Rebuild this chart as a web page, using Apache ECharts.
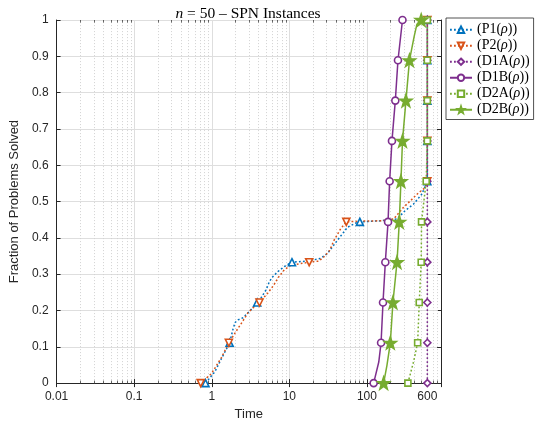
<!DOCTYPE html>
<html>
<head>
<meta charset="utf-8">
<script src="https://cdn.jsdelivr.net/npm/echarts@6/dist/echarts.min.js"></script>
<style>html,body{margin:0;padding:0;background:#fff;}#c{width:537px;height:426px;}</style>
</head>
<body>
<div id="c"></div>
<script>
// ---- data ----
const xTickLabels = ['0.01', '0.1', '1', '10', '100'];
const extraTicks = [600];
const extraTickLabels = ['600'];
const minorTicks = [0.02,0.03,0.04,0.05,0.06,0.07,0.08,0.09,
  0.2,0.3,0.4,0.5,0.6,0.7,0.8,0.9,
  2,3,4,5,6,7,8,9,
  20,30,40,50,60,70,80,90,
  200,300,400,500,700,800];
const markerLevels = [0, 0.111, 0.222, 0.333, 0.444, 0.556, 0.667, 0.778, 0.889, 1];

const seriesNames = ['(P1(ρ))', '(P2(ρ))', '(D1A(ρ))', '(D1B(ρ))', '(D2A(ρ))', '(D2B(ρ))'];

const p1Curve = [[1.095,0.031],[1.33,0.067],[1.88,0.149],[2.0,0.167],[2.18,0.174],[2.53,0.18],[2.79,0.189],[3.23,0.203],
  [4.33,0.235],[5.02,0.257],[5.54,0.28],[6.11,0.293],[7.09,0.307],[8.6,0.321],[17,0.336],[25,0.343],[31,0.357],
  [41.5,0.393],[56,0.429],[75,0.443],[150,0.447],[244,0.452],[311,0.475],[398,0.493],[508,0.52]];
const p1MarkX = [0.83, 1.7, 3.85, 10.8, 81, 600, 600, 600, 600, 600];

const p2Curve = [[0.99,0.026],[1.33,0.07],[2.08,0.144],[2.5,0.17],[2.93,0.194],[3.39,0.207],[5.28,0.248],[6.3,0.27],
  [7.09,0.289],[8.6,0.312],[10.5,0.325],[24,0.336],[28,0.348],[33,0.365],[37.6,0.393],[45.8,0.425],[82,0.446],
  [150,0.447],[221,0.452],[296,0.484],[379,0.506],[462,0.524],[561,0.538]];
const p2MarkX = [0.72, 1.66, 4.12, 18, 54.2, 600, 600, 600, 600, 600];

const d1aCurve = [];
const d1aMarkX = [600, 600, 600, 600, 600, 600, 600, 600, 600, 600];

const d1bCurve = [[142,0.058]];
const d1bMarkX = [122, 152, 161, 172.5, 187, 196, 210, 232, 251, 287];

const d2aCurve = [[398,0.058]];
const d2aMarkX = [337, 450, 472, 500, 505, 580, 600, 600, 600, 600];

const d2bCurve = [[181,0.049],[406,0.955],[440,0.988]];
const d2bMarkX = [164, 200, 216, 244, 261, 274, 287, 318, 353, 500];

// ---- styles ----
const BLUE = '#0072BD', ORANGE = '#D95319', PURPLE = '#7E2F8E', GREEN = '#77AC30';
const AX = '#262626';
const STAR = 'path://M0,-10 L2.35,-3.24 9.51,-3.09 3.8,1.24 5.88,8.09 0,4 -5.88,8.09 -3.8,1.24 -9.51,-3.09 -2.35,-3.24Z';
const DOWNTRI = 'path://M0,0 L10,0 L5,8.66Z';

function build(curve, markX) {
  const pts = curve.map(p => ({ value: p, symbol: 'none' }))
    .concat(markX.map((x, i) => ({ value: [x, markerLevels[i]] })));
  pts.sort((a, b) => (a.value[1] - b.value[1]) || (a.value[0] - b.value[0]));
  return pts;
}
function mk(name, color, dotted, symbol, size, filled, curve, markX) {
  return {
    name, type: 'line', data: build(curve, markX), clip: false,
    symbol, symbolSize: size, showSymbol: true,
    lineStyle: { color, width: 1.5, type: dotted ? [1.8, 2.2] : 'solid' },
    itemStyle: { color: filled ? color : '#fff', borderColor: color, borderWidth: 1.6 },
    emphasis: { disabled: true }, animation: false
  };
}

const series = [
  mk(seriesNames[0], BLUE, true, 'triangle', 7, false, p1Curve, p1MarkX),
  mk(seriesNames[1], ORANGE, true, DOWNTRI, 7, false, p2Curve, p2MarkX),
  mk(seriesNames[2], PURPLE, true, 'diamond', 7, false, d1aCurve, d1aMarkX),
  mk(seriesNames[3], PURPLE, false, 'circle', 7, false, d1bCurve, d1bMarkX),
  mk(seriesNames[4], GREEN, true, 'rect', 6, false, d2aCurve, d2aMarkX),
  mk(seriesNames[5], GREEN, false, STAR, 12, true, d2bCurve, d2bMarkX)
];

// minor grid + minor ticks (log decades 2..9)
series.unshift({
  type: 'custom', coordinateSystem: 'cartesian2d', silent: true, z: 1, animation: false,
  data: minorTicks.map(v => [v, 0]),
  renderItem: function (params, api) {
    const b = api.coord([api.value(0), 0]);
    const t = api.coord([api.value(0), 1]);
    const x = Math.round(b[0]) + 0.5;
    return { type: 'group', children: [
      { type: 'line', shape: { x1: x, y1: b[1], x2: x, y2: t[1] }, style: { stroke: '#d2d2d2', lineWidth: 1, lineDash: [1, 2] } },
      { type: 'line', shape: { x1: x, y1: b[1], x2: x, y2: b[1] - 2.5 }, style: { stroke: AX, lineWidth: 0.7 } },
      { type: 'line', shape: { x1: x, y1: t[1], x2: x, y2: t[1] + 2.5 }, style: { stroke: AX, lineWidth: 0.7 } }
    ]};
  }
});
// extra major tick at 600
series.unshift({
  type: 'custom', coordinateSystem: 'cartesian2d', silent: true, z: 1, animation: false,
  data: extraTicks.map(v => [v, 0]),
  renderItem: function (params, api) {
    const b = api.coord([api.value(0), 0]);
    const t = api.coord([api.value(0), 1]);
    const x = Math.round(b[0]) + 0.5;
    return { type: 'group', children: [
      { type: 'line', shape: { x1: x, y1: b[1], x2: x, y2: t[1] }, style: { stroke: '#dedede', lineWidth: 1 } },
      { type: 'line', shape: { x1: x, y1: b[1], x2: x, y2: b[1] - 4 }, style: { stroke: AX, lineWidth: 1 } },
      { type: 'line', shape: { x1: x, y1: t[1], x2: x, y2: t[1] + 4 }, style: { stroke: AX, lineWidth: 1 } },
      { type: 'text', x: b[0], y: b[1] + 8, style: { text: extraTickLabels[params.dataIndex], fill: AX,
        font: '12px "Liberation Sans", Arial, sans-serif', align: 'center', verticalAlign: 'top' } }
    ]};
  }
});

function xLabel(v) {
  const e = Math.round(Math.log10(v));
  if (Math.abs(Math.log10(v) - e) > 1e-6) return '';
  return xTickLabels[e + 2] || '';
}

const FONT = '"Liberation Sans", Arial, sans-serif';
const SERIF = '"Liberation Serif", "Times New Roman", serif';

const chart = echarts.init(document.getElementById('c'), null, { renderer: 'canvas' });
chart.setOption({
  animation: false,
  backgroundColor: '#fff',
  title: {
    text: '{i|n} = 50 – SPN Instances', left: 243, textAlign: 'center', top: 1,
    textStyle: { fontFamily: SERIF, fontSize: 15.5, fontWeight: 'normal', color: '#000',
      rich: { i: { fontFamily: SERIF, fontSize: 15.5, fontStyle: 'italic', color: '#000' } } }
  },
  legend: {
    data: seriesNames, orient: 'vertical', left: 446, top: 18,
    itemWidth: 22, itemHeight: 8, itemGap: 0.5,
    padding: [4, 4, 2, 3],
    borderColor: AX, borderWidth: 0.8, backgroundColor: '#fff',
    selectedMode: false,
    formatter: n => n.replace('ρ', '{r|ρ}'),
    textStyle: { fontFamily: SERIF, fontSize: 14, color: '#000', lineHeight: 15.5,
      rich: { r: { fontFamily: SERIF, fontSize: 14, fontStyle: 'italic', color: '#000', lineHeight: 15.5 } } }
  },
  grid: { left: 54, right: 96, top: 20, bottom: 38, containLabel: false },
  xAxis: [{
    type: 'log', logBase: 10, min: 0.01, max: 900, position: 'bottom',
    name: 'Time', nameLocation: 'middle', nameGap: 23,
    nameTextStyle: { fontFamily: FONT, fontSize: 13, color: AX },
    axisLine: { lineStyle: { color: AX, width: 1 } },
    axisTick: { inside: true, length: 4, lineStyle: { color: AX } },
    axisLabel: { formatter: xLabel, fontFamily: FONT, fontSize: 12, color: AX, margin: 8, showMaxLabel: false },
    splitLine: { show: true, lineStyle: { color: '#dedede', width: 1 } },
    minorTick: { show: false }, minorSplitLine: { show: false }
  }, {
    type: 'log', logBase: 10, min: 0.01, max: 900, position: 'top',
    axisLine: { lineStyle: { color: AX, width: 1 } },
    axisTick: { inside: true, length: 4, lineStyle: { color: AX } },
    axisLabel: { show: false }, splitLine: { show: false }
  }],
  yAxis: [{
    type: 'value', min: 0, max: 1, interval: 0.1, position: 'left',
    name: 'Fraction of Problems Solved', nameLocation: 'middle', nameGap: 28,
    nameTextStyle: { fontFamily: FONT, fontSize: 13, color: AX },
    axisLine: { show: true, lineStyle: { color: AX, width: 1 } },
    axisTick: { show: true, inside: true, length: 4, lineStyle: { color: AX } },
    axisLabel: { fontFamily: FONT, fontSize: 12, color: AX, margin: 8,
      formatter: v => String(Math.round(v * 10) / 10) },
    splitLine: { show: true, lineStyle: { color: '#dedede', width: 1 } }
  }, {
    type: 'value', min: 0, max: 1, interval: 0.1, position: 'right',
    axisLine: { show: true, lineStyle: { color: AX, width: 1 } },
    axisTick: { show: true, inside: true, length: 4, lineStyle: { color: AX } },
    axisLabel: { show: false }, splitLine: { show: false }
  }],
  series: series
});
</script>
</body>
</html>
